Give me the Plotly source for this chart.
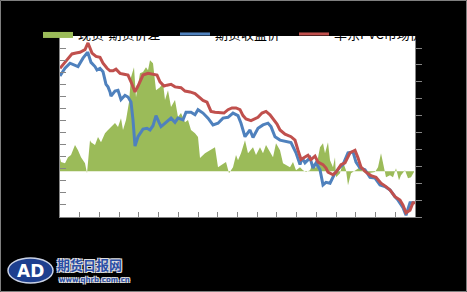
import plotly.graph_objects as go

# ---------------- data ----------------
# x = trading-day offset from the first observation
spot_x = [0,4,7,10,12,16,20,25,28,30,32,36,40,43,47,50,53,56,60,64,
          68,71,73,75,78,81,83,88,93,97,100,104,107,111,115,121,125,130,135,139,
          143,147,151,155,160,164,168,172,176,180,183,186,191,195,198,202,206,210,213,217,
          220,225,231,235,238,241,245,248,251,255,258,263,266,268,273,276,281,285,290,295,
          298,301,306,311,316,321,326,330,335,340,343,346,350,353,355]
spot_price = [7560,7620,7660,7700,7730,7740,7750,7780,7860,7800,
              7740,7700,7690,7620,7560,7530,7530,7550,7500,7490,
              7480,7400,7330,7280,7350,7420,7480,7500,7490,7480,
              7400,7350,7360,7370,7340,7330,7290,7280,7260,7220,
              7180,7160,7050,7040,7030,7030,7070,7090,7090,7070,
              7000,6960,6940,6960,6980,7030,7050,7010,6960,6900,
              6830,6780,6750,6710,6590,6480,6510,6530,6480,6520,
              6450,6420,6380,6330,6300,6330,6420,6440,6560,6590,
              6500,6390,6330,6290,6270,6200,6160,6120,6040,6000,
              5940,5850,5880,5970,5970]

fut_x = [0,3,5,10,15,18,23,27,28,31,35,37,40,43,46,48,50,51,55,58,
         61,63,65,68,71,73,75,78,80,83,87,90,93,96,99,101,104,106,111,115,
         118,123,126,131,135,138,143,148,153,158,163,168,173,178,181,185,190,193,198,203,
         208,211,215,220,226,231,236,240,242,245,250,253,256,260,263,266,270,275,280,283,
         288,293,296,300,305,310,315,320,325,330,335,338,343,346,350,354]
fut_price = [7470,7530,7560,7620,7600,7580,7680,7740,7740,7630,
             7580,7540,7560,7520,7370,7340,7280,7230,7290,7300,
             7190,7220,7240,7220,7160,6950,6640,6750,6790,6840,
             6850,6830,6880,7000,6920,6870,6900,6920,6970,6920,
             6970,6950,7040,7040,7010,7070,7030,6970,6890,6910,
             6970,6980,7030,7000,6910,6750,6830,6740,6850,6890,
             6910,6870,6750,6710,6690,6680,6560,6420,6500,6440,
             6500,6380,6440,6360,6180,6210,6200,6320,6390,6420,
             6560,6570,6450,6380,6360,6270,6260,6180,6160,6120,
             6040,6000,5910,5820,5970,5970]

spread_x = [0,1,5,8,11,15,18,21,25,27,30,31,35,38,41,45,48,51,55,58,
            61,63,66,69,71,74,76,80,83,86,88,90,93,96,100,103,105,108,111,115,
            118,121,125,128,131,135,138,140,145,150,155,158,161,166,169,173,176,178,181,185,
            188,193,196,200,203,206,210,213,216,220,223,226,230,233,236,240,243,246,250,253,
            256,260,263,265,268,270,273,275,276,280,283,286,288,291,295,300,303,308,315,318,
            321,323,326,330,333,336,339,341,345,348,351,354]
spread = [108,75,66,116,133,216,174,116,66,-17,
          257,240,216,282,240,315,340,365,398,365,
          439,340,423,572,779,862,613,812,821,862,
          837,920,895,671,696,730,589,671,531,589,
          448,481,406,423,340,315,282,108,149,174,
          199,33,50,75,-17,33,133,91,149,257,
          149,199,133,199,149,216,158,116,232,174,
          66,50,33,75,8,33,8,-8,8,66,
          25,199,232,149,240,91,33,116,-50,-17,
          75,8,-116,-17,8,33,-8,-17,-8,33,
          149,66,-50,-33,-50,25,-75,-33,8,-58,
          -50,-8]

names = ["现货-期货价差", "期货收盘价", "华东PVC市场价"]
colors = ["#9BBB59", "#4F81BD", "#C0504D"]

# ---------------- geometry ----------------
W, H = 467, 292
L, R, T, B = 60, 415, 36, 217
PW, PH = R - L, B - T


def px_x(p):
    return (p - L) / PW


def px_y(p):
    return (B - p) / PH


AX = "#868686"
LEG_FONT = dict(family="Noto Sans CJK SC", size=13, color="black")

fig = go.Figure()
fig.add_trace(go.Scatter(
    x=spread_x, y=spread, name=names[0], mode="lines", fill="tozeroy",
    line=dict(width=0, color=colors[0]), fillcolor=colors[0], yaxis="y",
    legend="legend"))
fig.add_trace(go.Scatter(
    x=fut_x, y=fut_price, name=names[1], mode="lines",
    line=dict(width=3, color=colors[1]), yaxis="y2", legend="legend2"))
fig.add_trace(go.Scatter(
    x=spot_x, y=spot_price, name=names[2], mode="lines",
    line=dict(width=3, color=colors[2]), yaxis="y2", legend="legend3"))

leg_common = dict(orientation="h", xanchor="left", yanchor="middle",
                  bgcolor="rgba(0,0,0,0)", borderwidth=0, font=LEG_FONT,
                  itemwidth=30)

fig.update_layout(
    width=W, height=H,
    margin=dict(l=L, r=W - R, t=T, b=H - B, pad=0),
    paper_bgcolor="black", plot_bgcolor="white",
    showlegend=True,
    legend=dict(x=px_x(38), y=px_y(34), **leg_common),
    legend2=dict(x=px_x(175), y=px_y(34), **leg_common),
    legend3=dict(x=px_x(294), y=px_y(34), **leg_common),
    xaxis=dict(range=[0, 355], tickmode="linear", tick0=0, dtick=355 / 18,
               ticks="inside", ticklen=5, tickcolor=AX, showline=True,
               linecolor=AX, linewidth=1, showgrid=False, zeroline=False,
               showticklabels=False),
    yaxis=dict(range=[-380, 1120], tickmode="linear", tick0=-380, dtick=100,
               ticks="inside", ticklen=6, tickcolor=AX, showline=True,
               linecolor=AX, linewidth=1, showgrid=False, zeroline=False,
               showticklabels=False),
    yaxis2=dict(range=[5800, 7942], tickmode="linear", tick0=5800, dtick=200,
                overlaying="y", side="right", ticks="outside", ticklen=6,
                tickcolor=AX, showline=True, linecolor=AX, linewidth=1,
                showgrid=False, zeroline=False, showticklabels=False),
)

# outer grey frame
fig.add_shape(type="rect", xref="paper", yref="paper",
              x0=px_x(0.5), x1=px_x(W - 0.5), y0=px_y(H - 0.5), y1=px_y(0.5),
              line=dict(color="#7f7f7f", width=1), fillcolor="rgba(0,0,0,0)",
              layer="above")

# logo
fig.add_shape(type="circle", xref="paper", yref="paper",
              x0=px_x(8), x1=px_x(53), y0=px_y(283), y1=px_y(258),
              fillcolor="#1d3f8f", line=dict(color="#c9d2e6", width=1.5),
              layer="above")
fig.add_annotation(xref="paper", yref="paper", x=px_x(30.5), y=px_y(270.5),
                   text="<b>AD</b>", showarrow=False,
                   font=dict(family="DejaVu Sans", size=17, color="white"),
                   xanchor="center", yanchor="middle")
outline = "1px 1px 0 #e0e0e0, -1px -1px 0 #e0e0e0, 1px -1px 0 #e0e0e0, -1px 1px 0 #e0e0e0"
fig.add_annotation(xref="paper", yref="paper", x=px_x(55), y=px_y(264.5),
                   text="<b>期货日报网</b>", showarrow=False,
                   font=dict(family="Noto Sans CJK SC", size=13,
                             color="#2a4ea6", shadow=outline),
                   xanchor="left", yanchor="middle")
fig.add_annotation(xref="paper", yref="paper", x=px_x(57), y=px_y(279.5),
                   text="<b>www.qhrb.com.cn</b>", showarrow=False,
                   font=dict(family="DejaVu Sans", size=7,
                             color="#2a4ea6", shadow=outline),
                   xanchor="left", yanchor="middle")

fig.write_html("out.html")
